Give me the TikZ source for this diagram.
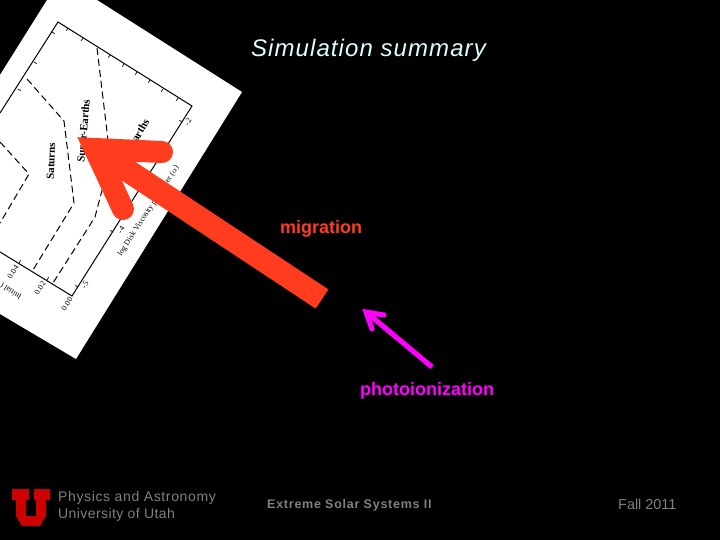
\documentclass[tikz,border=0pt]{standalone}
\usepackage{fontspec}
\setmainfont{Liberation Sans}
\newfontfamily\paperfont{Liberation Serif}
\newfontfamily\titlefont[LetterSpace=4.5]{Liberation Sans}
\newfontfamily\footfont[LetterSpace=4.5]{Liberation Sans}
\newfontfamily\utahfont[LetterSpace=3]{Liberation Sans}
\newfontfamily\conffont[LetterSpace=6]{Liberation Sans}
\definecolor{utahred}{HTML}{CC0000}
\definecolor{arrowred}{HTML}{FF3C1E}
\definecolor{arrowpink}{HTML}{FF00FF}
\definecolor{footgray}{HTML}{808080}
\definecolor{titlecyan}{HTML}{DDFFFF}
\usetikzlibrary{positioning}

\begin{document}
\begin{tikzpicture}[x=1pt,y=-1pt]
            \tikzset{axis/.style = {-,line width=1pt},
                     curve/.style = {-,line width=1pt,dash pattern=on 7pt off 4pt},
                     tick/.style = {-,line width=0.7pt},
                     label/.style = {inner sep=0pt,font=\paperfont\bfseries\fontsize{11}{11}\selectfont},
                     small/.style = {inner sep=0pt,font=\paperfont\fontsize{8}{8}\selectfont},
                     head/.style = {-,line cap=round,line join=miter,miter limit=10},
                     foot/.style = {inner sep=0pt,anchor=west,text=footgray}}
            \useasboundingbox (0,0) rectangle (720,540);
            \fill[black] (0,0) rectangle (720,540);
            % paper
            \fill[white] (47,0) -- (97,0) -- (242,92) -- (76,359) -- (0,314) -- (0,75) -- cycle;
            % plot axes
            \draw[axis] (0,113) -- (58,22) -- (192,106) -- (72,296) -- (0,252);
            \draw[curve] (97,48) -- (108,140) -- (110,160) -- (95,217) -- (53,283);
            \draw[curve] (27,79) -- (64,121) -- (74,203) -- (33,270);
            \draw[curve] (0,142) -- (29,174) -- (0,223);
            % ticks
            \foreach \x/\y in {68/28,83/38,110/55,124/64,137/72,150/80,163/89,178/98}
                \draw[tick] (\x,\y) -- ++(-1.7,2.7);
            \foreach \x/\y in {52/32,34/62,18/89}
                \draw[tick] (\x,\y) -- ++(2.7,1.7);
            \foreach \x/\y in {182/122,147/177,113/232,78/287}
                \draw[tick] (\x,\y) -- ++(-2.7,-1.7);
            \foreach \x/\y in {19/263,47/280}
                \draw[tick] (\x,\y) -- ++(1.7,-2.7);
            % vertices
            \node[label,rotate=88] (saturns) at (51,161) {Saturns};
            \node[label,rotate=85] (earths1) at (84.5,131) {Super-Earths};
            \node[label,rotate=60] (earths2) at (138.5,133.5) {Earths};
            \node[small,rotate=57] (visc) at (148.5,211) {log Disk Viscosity parameter ($\alpha$)};
            \node[small,rotate=58] (num2) at (188,122) {-2};
            \node[small,rotate=58] (num4) at (121,230) {-4};
            \node[small,rotate=58] (num5) at (85,285) {-5};
            \node[small,rotate=58] (mass0) at (67,304) {0.00};
            \node[small,rotate=58] (mass2) at (40,288) {0.02};
            \node[small,rotate=58] (mass4) at (13,272) {0.04};
            \node[small,rotate=148] (mass) at (11,291) {Initial (};
            \node[inner sep=0pt,text=titlecyan,font=\titlefont\itshape\fontsize{24}{24}\selectfont] (title) at (368.5,50) {Simulation summary};
            \node[inner sep=0pt,text=arrowred,font=\bfseries\fontsize{18}{18}\selectfont,anchor=west] (migr) at (280,229) {migration};
            \node[inner sep=0pt,text=arrowpink,font=\bfseries\fontsize{18}{18}\selectfont,anchor=west] (photo) at (360,391) {photoionization};
            \node[foot,font=\footfont\fontsize{14}{14}\selectfont] (dept) at (58,498) {Physics and Astronomy};
            \node[foot,font=\utahfont\fontsize{14}{14}\selectfont] (univ) at (58,515) {University of Utah};
            \node[foot,font=\conffont\bfseries\fontsize{12.5}{12.5}\selectfont] (conf) at (267,505) {Extreme Solar Systems II};
            \node[foot,font=\fontsize{14.4}{14.4}\selectfont] (term) at (618,504) {Fall 2011};
            \coordinate (redtail) at (322,299);
            \coordinate (redtip) at (95,149);
            \coordinate (redbarba) at (162,152);
            \coordinate (redbarbb) at (123,209);
            \coordinate (pinktail) at (432,367);
            \coordinate (pinktip) at (366,312);
            \coordinate (pinkbarba) at (384,315);
            \coordinate (pinkbarbb) at (372,329);
            %edges
            \draw[-,arrowred,line width=23pt] (redtail) to (redtip);
            \draw[head,arrowred,line width=22pt] (redbarba) -- (redtip) -- (redbarbb);
            \draw[-,arrowpink,line width=5pt] (pinktail) to (pinktip);
            \draw[head,arrowpink,line width=5pt] (pinkbarba) -- (pinktip) -- (pinkbarbb);
            % logo
            \fill[utahred] (12,489) -- (29,489) -- (29,500) -- (26,500) -- (26,516) -- (36,516) -- (36,500) -- (34,500) -- (34,489) -- (50,489) -- (50,500) -- (46,500) -- (46,516) -- (40,526) -- (22,526) -- (16,516) -- (16,500) -- (12,500) -- cycle;
        \end{tikzpicture}
\end{document}
